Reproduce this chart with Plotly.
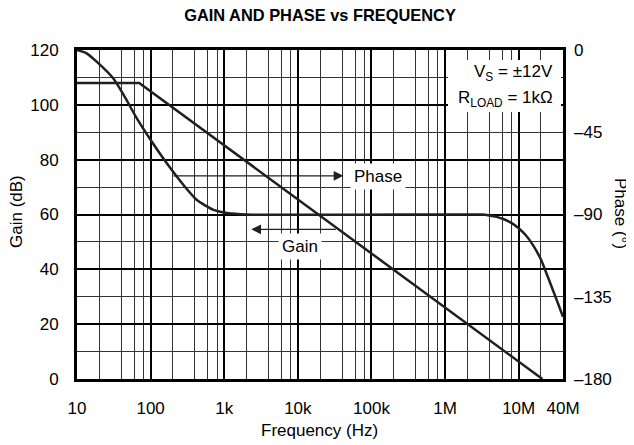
import math
import plotly.graph_objects as go

# ---------------- data ----------------
gain_freq_hz = [10, 70, 2.1e7]
gain_db = [108, 108, 0]

phase_freq_hz = [10, 13.5, 18.5, 31, 43, 65, 104, 166, 280, 425, 714, 1090, 2000,
                 1e6, 3.16e6, 3.98e6, 5.01e6, 6.31e6, 7.94e6, 1e7, 1.26e7, 1.58e7,
                 2.0e7, 2.51e7, 3.16e7, 4.0e7]
phase_deg = [0, -1.8, -6.4, -15.5, -24.6, -37.4, -50.2, -62.0, -73.9, -82.1, -87.5, -89.2, -90,
             -90, -90, -90.5, -91.3, -92.6, -94.6, -97.5, -101.5, -107,
             -114.5, -124.5, -135, -146]

x_tick_vals = [10, 100, 1e3, 1e4, 1e5, 1e6, 1e7, 4e7]
x_tick_text = ["10", "100", "1k", "10k", "100k", "1M", "10M", "40M"]
gain_ticks = [0, 20, 40, 60, 80, 100, 120]
phase_ticks = [0, -45, -90, -135, -180]
phase_tick_text = ["0", "–45", "–90", "–135", "–180"]

# minor grid: 2,4,6,8 per decade
minor_x = []
for d in [10, 100, 1e3, 1e4, 1e5, 1e6, 1e7]:
    for m in [2, 4, 6, 8]:
        if d * m < 4e7:
            minor_x.append(d * m)

FONT = "Liberation Sans, Arial, Helvetica, sans-serif"
INK = "#231f20"

fig = go.Figure()
fig.add_trace(go.Scatter(x=gain_freq_hz, y=gain_db, mode="lines",
                         line=dict(color=INK, width=2.5), yaxis="y", showlegend=False))
fig.add_trace(go.Scatter(x=phase_freq_hz, y=phase_deg, mode="lines",
                         line=dict(color=INK, width=2.5, shape="spline", smoothing=0.6),
                         yaxis="y2", showlegend=False))

OFF = 8  # page body margin
PL, PR, PT, PB = 77, 563, 50, 379   # plot area in window pixels
W, H = 634 - OFF, 445 - OFF
L, T = PL - OFF, PT - OFF
R, B = 634 - PR, 445 - PB
pw, ph = PR - PL, PB - PT

def px_x(px):
    return (px - PL) / pw

def px_y(py):
    return (PB - py) / ph

fig.update_layout(
    width=W, height=H,
    margin=dict(l=L, r=R, t=T, b=B, autoexpand=False),
    paper_bgcolor="white", plot_bgcolor="white",
    font=dict(family=FONT, size=17, color="black"),
    title=dict(text="<b>GAIN AND PHASE vs FREQUENCY</b>", x=0.5, xref="paper",
               y=1 - (15.5 - OFF) / H, yref="container", yanchor="middle",
               font=dict(size=16.4, family=FONT, color="black")),
    xaxis=dict(type="log", range=[1, math.log10(4e7)],
               tickvals=x_tick_vals, ticktext=x_tick_text, ticks="",
               ticklabelstandoff=12,
               showgrid=True, gridcolor="black", gridwidth=2,
               minor=dict(tickvals=minor_x, showgrid=True, gridcolor="#333", gridwidth=1, ticks=""),
               showline=True, linecolor="black", linewidth=3, mirror=True,
               zeroline=False),
    yaxis=dict(range=[0, 120], tickvals=gain_ticks, ticks="",
               ticklabelstandoff=12,
               showgrid=True, gridcolor="black", gridwidth=2,
               minor=dict(dtick=10, showgrid=True, gridcolor="#333", gridwidth=1, ticks=""),
               showline=True, linecolor="black", linewidth=3, mirror=True,
               zeroline=False),
    yaxis2=dict(range=[-180, 0], overlaying="y", side="right",
                tickvals=phase_ticks, ticktext=phase_tick_text, ticks="",
                ticklabelstandoff=10, showgrid=False, zeroline=False, showline=False),
)

# white box behind the conditions text
fig.add_shape(type="rect", xref="paper", yref="paper",
              x0=px_x(448), x1=px_x(561), y0=px_y(112), y1=px_y(60),
              fillcolor="white", line=dict(width=0), layer="above")

fig.add_annotation(xref="paper", yref="paper", x=px_x(555), y=px_y(73),
                   text="V<sub>S</sub> = ±12V", showarrow=False,
                   xanchor="right", yanchor="middle", font=dict(size=17))
fig.add_annotation(xref="paper", yref="paper", x=px_x(555), y=px_y(99),
                   text="R<sub>LOAD</sub> = 1kΩ", showarrow=False,
                   xanchor="right", yanchor="middle", font=dict(size=17))

# Phase arrow (points right) and label
fig.add_annotation(xref="x", yref="y", x=math.log10(41600), y=74.1,
                   axref="x", ayref="y", ax=math.log10(195), ay=74.1,
                   text="", showarrow=True, arrowhead=2, arrowsize=1.5,
                   arrowwidth=1.3, arrowcolor=INK)
fig.add_annotation(xref="paper", yref="paper", x=px_x(350), y=px_y(176),
                   text="Phase", showarrow=False, xanchor="left", yanchor="middle",
                   bgcolor="white", borderpad=3, font=dict(size=17))

# Gain arrow (points left) and label
fig.add_annotation(xref="x", yref="y", x=math.log10(2330), y=54.6,
                   axref="x", ayref="y", ax=math.log10(34400), ay=54.6,
                   text="", showarrow=True, arrowhead=2, arrowsize=1.5,
                   arrowwidth=1.3, arrowcolor=INK)
fig.add_annotation(xref="paper", yref="paper", x=px_x(300), y=px_y(246),
                   text="Gain", showarrow=False, xanchor="center", yanchor="middle",
                   bgcolor="white", borderpad=3, font=dict(size=17))

# axis titles
fig.add_annotation(xref="paper", yref="paper", x=px_x(319), y=px_y(431),
                   text="Frequency (Hz)", showarrow=False,
                   xanchor="center", yanchor="middle", font=dict(size=17))
fig.add_annotation(xref="paper", yref="paper", x=px_x(16), y=px_y(211),
                   text="Gain (dB)", showarrow=False, textangle=-90,
                   xanchor="center", yanchor="middle", font=dict(size=17))
fig.add_annotation(xref="paper", yref="paper", x=px_x(621), y=px_y(213),
                   text="Phase (°)", showarrow=False, textangle=90,
                   xanchor="center", yanchor="middle", font=dict(size=17))

fig.write_html("out.html")
